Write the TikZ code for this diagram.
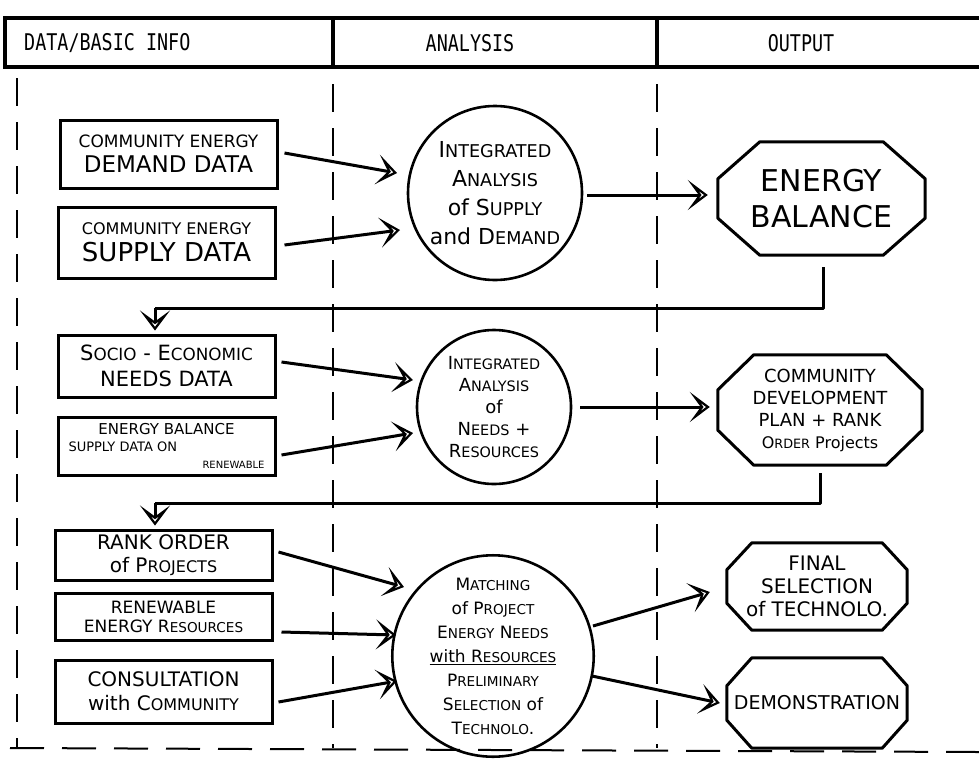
\documentclass[tikz,border=0pt]{standalone}
\usepackage{fontspec}
\usepackage{graphicx}
\setmainfont{DejaVu Sans}
\newfontfamily\hdrfont[FakeStretch=0.8]{DejaVu Sans Mono}
\usetikzlibrary{arrows.meta,calc}
\newcommand\sm[1]{\scalebox{0.8}{#1}}
\newcommand\fs[2]{\fontsize{#1}{#2}\selectfont}
\newcommand\octagonfor[3]{%
  \draw[outline] ($(#1.north west)+(#2,0)$) -- ($(#1.north east)+(-#2,0)$)
   -- ($(#1.north east)+(0,#3)$) -- ($(#1.south east)+(0,-#3)$)
   -- ($(#1.south east)+(-#2,0)$) -- ($(#1.south west)+(#2,0)$)
   -- ($(#1.south west)+(0,-#3)$) -- ($(#1.north west)+(0,#3)$) -- cycle;}
\begin{document}
\begin{tikzpicture}[x=1pt,y=-1pt,
  outline/.style={line width=3pt, line join=round},
  hdr/.style={line width=3.5pt},
  hdrtext/.style={font=\hdrfont\fontsize{23}{26}\selectfont, inner sep=0pt},
  dashline/.style={line width=2pt, dash pattern=on 28pt off 16pt},
  databox/.style={draw, line width=3pt, inner sep=0pt, align=center},
  circ/.style={draw, line width=2.6pt, circle, inner sep=0pt, align=center},
  outnode/.style={inner sep=0pt, align=center},
  flow/.style={line width=3pt, -{Stealth[open, length=20pt, width=30pt, inset=11pt, line width=2.2pt]}}
]
\useasboundingbox (0,0) rectangle (979,761);
% header
\draw[hdr] (5,18) rectangle (990,67);
\draw[hdr] (333,18) -- (333,67);
\draw[hdr] (657,18) -- (657,67);
\node[hdrtext, anchor=west] (h1) at (24,43) {DATA/BASIC INFO};
\node[hdrtext] (h2) at (470,43) {ANALYSIS};
\node[hdrtext] (h3) at (801,43) {OUTPUT};
% column dashed lines
\draw[dashline] (17,78) -- (17,748);
\draw[dashline] (333,84) -- (333,748);
\draw[dashline] (657,84) -- (657,748);
\draw[dashline, dash pattern=on 34pt off 18pt] (10,748) -- (979,752);

% data boxes
\node[databox, minimum width=217pt, minimum height=68pt, font=\fs{17}{25}] (b1) at (168.5,154)
  {COMMUNITY ENERGY\\{\fs{23}{25}DEMAND DATA}};
\node[databox, minimum width=217pt, minimum height=71pt, font=\fs{16}{27}] (b2) at (166.5,242.5)
  {COMMUNITY ENERGY\\{\fs{26}{27}SUPPLY DATA}};
\node[databox, minimum width=217pt, minimum height=62pt, font=\fs{21}{26}] (b3) at (166.5,366)
  {S\sm{OCIO} - E\sm{CONOMIC}\\NEEDS DATA};
\node[databox, minimum width=217pt, minimum height=58pt, font=\fs{15}{17}] (b4) at (166.5,446)
  {ENERGY BALANCE\\{\fs{13}{14}\makebox[196pt][l]{SUPPLY DATA ON}}\\{\fs{10}{10}\makebox[196pt][r]{RENEWABLE}}};
\node[databox, minimum width=217pt, minimum height=50pt, font=\fs{20}{23}] (b5) at (163.5,555)
  {RANK ORDER\\of P\sm{ROJECTS}};
\node[databox, minimum width=217pt, minimum height=47pt, font=\fs{17}{19}] (b6) at (163.5,616.5)
  {RENEWABLE\\ENERGY R\sm{ESOURCES}};
\node[databox, minimum width=217pt, minimum height=63pt, font=\fs{20}{24}] (b7) at (163.5,691.5)
  {CONSULTATION\\with C\sm{OMMUNITY}};

% analysis circles
\node[circ, minimum size=174pt, font=\fs{22}{29}] (c1) at (495,193)
  {I\sm{NTEGRATED}\\A\sm{NALYSIS}\\of S\sm{UPPLY}\\and D\sm{EMAND}};
\node[circ, minimum size=154pt, font=\fs{18}{22}] (c2) at (494,407)
  {I\sm{NTEGRATED}\\A\sm{NALYSIS}\\of\\N\sm{EEDS} +\\R\sm{ESOURCES}};
\node[circ, minimum size=184pt, font=\fs{17}{24}] (c3) at (493,656)
  {M\sm{ATCHING}\\of P\sm{ROJECT}\\E\sm{NERGY} N\sm{EEDS}\\\underline{with R\sm{ESOURCES}}\\P\sm{RELIMINARY}\\S\sm{ELECTION} of\\T\sm{ECHNOLO}.};

% output octagons
\node[outnode, minimum width=207pt, minimum height=113pt, font=\fs{30}{36}] (o1) at (821.5,198.5)
  {ENERGY\\BALANCE};
\octagonfor{o1}{42}{37}
\node[outnode, minimum width=204pt, minimum height=110pt, font=\fs{18}{22}] (o2) at (820,410)
  {COMMUNITY\\DEVELOPMENT\\PLAN + RANK\\{\fs{16}{18}O\sm{RDER} Projects}};
\octagonfor{o2}{36}{35}
\node[outnode, minimum width=180pt, minimum height=87pt, font=\fs{20}{23}] (o3) at (817,586.5)
  {FINAL\\SELECTION\\of TECHNOLO.};
\octagonfor{o3}{25}{27}
\node[outnode, minimum width=180pt, minimum height=90pt, font=\fs{19}{22}] (o4) at (817,703)
  {DEMONSTRATION};
\octagonfor{o4}{25}{28}

% flow arrows
\draw[flow] ($(b1.east)+(6,-1)$) -- ($(c1.center)+(-98,-20)$);
\draw[flow] ($(b2.east)+(8,2.5)$) -- ($(c1.center)+(-95,37)$);
\draw[flow] ($(c1.center)+(92,2)$) -- ($(o1.west)+(-10,-3.5)$);
\draw[flow] ($(b3.east)+(5,-4)$) -- ($(c2.center)+(-81,-27)$);
\draw[flow] ($(b4.east)+(5,9)$) -- ($(c2.center)+(-81,26)$);
\draw[flow] ($(c2.center)+(86,0)$) -- ($(o2.west)+(-8,-3)$);
\draw[flow] ($(b5.east)+(5,-3)$) -- ($(c3.center)+(-89,-69)$);
\draw[flow] ($(b6.east)+(8,15.5)$) -- ($(c3.center)+(-97,-21)$);
\draw[flow] ($(b7.east)+(5,10.5)$) -- ($(c3.center)+(-96,25)$);
\draw[flow] ($(c3.center)+(100,-30)$) -- ($(o3.west)+(-17,5.5)$);
\draw[flow] ($(c3.center)+(99,20)$) -- ($(o4.west)+(-7,0)$);

% feedback loops
\coordinate (fb1) at (155,308);
\draw[outline] ($(o1.south)+(2,12)$) |- (fb1);
\draw[flow] (fb1) -- ($(fb1 |- b3.north)+(0,-3)$);
\coordinate (fb2) at (155,503);
\draw[outline] ($(o2.south)+(0,8)$) |- (fb2);
\draw[flow] (fb2) -- ($(fb2 |- b5.north)+(0,-3)$);
\end{tikzpicture}
\end{document}
